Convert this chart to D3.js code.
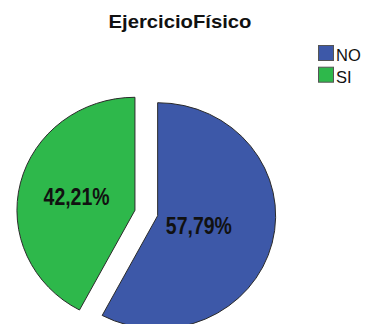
<!DOCTYPE html>
<html>
<head>
<meta charset="utf-8">
<script src="https://cdn.jsdelivr.net/npm/d3@7/dist/d3.min.js"></script>
<style>
  html, body { margin: 0; padding: 0; background: #fff; }
  svg { display: block; }
</style>
</head>
<body>
<svg id="chart" width="365" height="324"></svg>
<script>
// Exercise survey: share of respondents who do / don't exercise
const categories = ["NO", "SI"];
const percents = [57.79, 42.21];
const sliceColors = ["#3d58a8", "#2eb84b"];
const chartTitle = "EjercicioFísico";

const svg = d3.select("#chart");

// Title
svg.append("text")
  .attr("x", 180)
  .attr("y", 28.3)
  .attr("text-anchor", "middle")
  .attr("font-family", "Liberation Sans, Arial, sans-serif")
  .attr("font-weight", "bold")
  .attr("font-size", 18.5)
  .attr("textLength", 143)
  .attr("lengthAdjust", "spacingAndGlyphs")
  .attr("fill", "#111")
  .text(chartTitle);

// Pie geometry (slightly flattened vertically, slices pulled apart)
const cx = 146.3, cy = 213, R = 118, yScale = 113 / 118, explode = 11.7;

const pie = d3.pie().sort(null).value(d => d)(percents);
const arc = d3.arc().innerRadius(0).outerRadius(R);
const labelRadius = [0.36 * R, 0.51 * R];

const color = d3.scaleOrdinal().domain(categories).range(sliceColors);
const fmt = v => d3.format(".2f")(v).replace(".", ",") + "%";

const pieG = svg.append("g").attr("transform", `translate(${cx},${cy})`);

pie.forEach((p, i) => {
  const mid = (p.startAngle + p.endAngle) / 2;
  const dx = Math.sin(mid) * explode;
  const dy = -Math.cos(mid) * explode * yScale;
  const g = pieG.append("g").attr("transform", `translate(${dx},${dy})`);
  g.append("path")
    .attr("d", arc(p))
    .attr("transform", `scale(1,${yScale})`)
    .attr("fill", color(categories[i]))
    .attr("stroke", "#2a2a2a")
    .attr("stroke-width", 1)
    .attr("vector-effect", "non-scaling-stroke");
  const lr = labelRadius[i];
  // condensed bold percentage label
  g.append("text")
    .attr("x", Math.sin(mid) * lr)
    .attr("y", -Math.cos(mid) * lr * yScale)
    .attr("dy", "0.36em")
    .attr("text-anchor", "middle")
    .attr("font-family", "Liberation Sans, Arial, sans-serif")
    .attr("font-weight", "bold")
    .attr("font-size", 23)
    .attr("textLength", 66)
    .attr("lengthAdjust", "spacingAndGlyphs")
    .attr("fill", "#111")
    .text(fmt(percents[i]));
});

// Legend
const legend = svg.append("g").attr("transform", "translate(318,45)");
categories.forEach((c, i) => {
  const row = legend.append("g").attr("transform", `translate(0,${i * 21.7})`);
  row.append("rect")
    .attr("x", 0.5).attr("y", 0.5)
    .attr("width", 15).attr("height", 15)
    .attr("fill", color(c))
    .attr("stroke", "#555")
    .attr("stroke-width", 1);
  row.append("text")
    .attr("x", 18)
    .attr("y", 16)
    .attr("font-family", "Liberation Sans, Arial, sans-serif")
    .attr("font-size", 16.5)
    .attr("fill", "#111")
    .text(c);
});
</script>
</body>
</html>
